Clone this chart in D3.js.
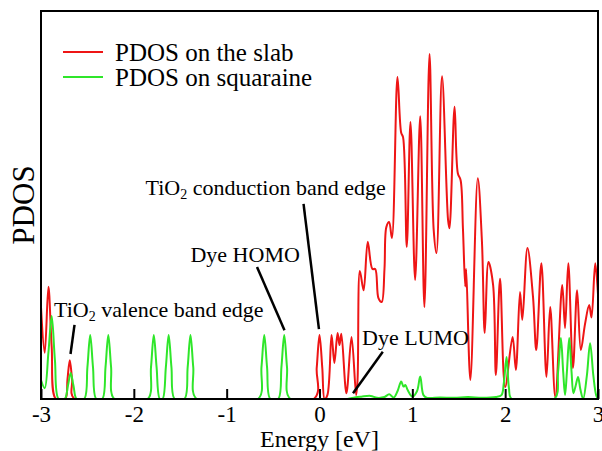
<!DOCTYPE html>
<html>
<head>
<meta charset="utf-8">
<script src="https://cdn.jsdelivr.net/npm/d3@7"></script>
<style>
  body { margin: 0; background: #fff; }
  svg { display: block; font-family: "Liberation Serif", "Times New Roman", serif; }
</style>
</head>
<body>
<div id="chart"></div>
<script>
// tick values along the energy axis
const energyTicks = [-3, -2, -1, 0, 1, 2, 3];
const tickLabels = ["-3", "-2", "-1", "0", "1", "2", "3"];

const seriesNames = ["PDOS on the slab", "PDOS on squaraine"];

// [energy eV, PDOS arb. units]
const slabPdos = [
  [-3.0, 23.7], [-2.96, 11.9], [-2.92, 28.9], [-2.885, 13.5], [-2.84, 0],
  [-2.74, 0], [-2.715, 5], [-2.69, 10], [-2.665, 5], [-2.64, 0],
  [-0.06, 0], [-0.03, 8], [0, 16.5], [0.03, 8], [0.055, 0], [0.085, 1],
  [0.13, 16.5], [0.16, 9.3], [0.195, 17], [0.215, 13.9], [0.235, 16.8],
  [0.29, 1.5], [0.345, 16], [0.395, 1], [0.41, 5], [0.435, 33], [0.475, 28],
  [0.52, 40.5], [0.57, 33.5], [0.60, 33.5], [0.635, 26], [0.67, 25],
  [0.70, 33.5], [0.72, 44.3], [0.75, 45.6], [0.78, 41.5], [0.84, 83],
  [0.88, 68.6], [0.90, 67.5], [0.94, 39.2], [0.98, 71.4], [1.03, 30.7],
  [1.085, 72.9], [1.13, 23.7], [1.185, 88.9], [1.23, 43.6], [1.26, 37.6],
  [1.32, 83.2], [1.385, 46.1], [1.40, 44], [1.455, 75.3], [1.49, 58.2],
  [1.52, 56.4], [1.545, 44], [1.57, 29], [1.58, 33.5], [1.625, 4.9],
  [1.705, 56.9], [1.75, 40.5], [1.78, 17], [1.82, 35.3], [1.87, 29.4],
  [1.90, 6.2], [1.945, 31], [2.0, 3.1], [2.08, 16], [2.115, 7.5],
  [2.16, 27.6], [2.185, 20.4], [2.24, 38.9], [2.30, 26.3], [2.335, 12.6],
  [2.39, 35], [2.445, 5.7], [2.485, 23.7], [2.54, 0.5], [2.615, 29.4],
  [2.645, 18.3], [2.68, 35], [2.73, 8], [2.775, 28], [2.815, 12.6],
  [2.86, 19.3], [2.905, 24.2], [2.93, 21], [2.97, 35], [3.0, 27]
];

const squarainePdos = [
  [-3.0, 4.9], [-2.96, 2.8], [-2.92, 12], [-2.885, 21.4], [-2.85, 10], [-2.81, 0],
  [-2.745, 0], [-2.71, 3.4], [-2.68, 6.7], [-2.65, 3.4], [-2.615, 0],
  [-2.535, 0], [-2.50, 8.2], [-2.47, 16.5], [-2.44, 8.2], [-2.405, 0],
  [-2.34, 0], [-2.305, 8.2], [-2.275, 16.5], [-2.245, 8.2], [-2.21, 0],
  [-1.85, 0], [-1.815, 8.2], [-1.785, 16.5], [-1.755, 8.2], [-1.72, 0],
  [-1.69, 0], [-1.655, 8.2], [-1.625, 16.5], [-1.595, 8.2], [-1.56, 0],
  [-1.455, 0], [-1.42, 8.2], [-1.39, 16.5], [-1.36, 8.2], [-1.325, 0],
  [-0.66, 0], [-0.625, 8.2], [-0.595, 16.5], [-0.565, 8.2], [-0.53, 0],
  [-0.445, 0], [-0.41, 8.2], [-0.38, 16.5], [-0.35, 8.2], [-0.315, 0],
  [0.30, 0], [0.38, 0.4], [0.45, 0.6], [0.55, 0.8], [0.62, 0.3], [0.70, 0.5],
  [0.75, 1.2], [0.80, 0.4], [0.84, 2], [0.88, 4.5], [0.905, 3.2], [0.925, 3.6],
  [0.95, 2.3], [1.0, 0.6], [1.05, 2], [1.085, 5.8], [1.12, 1], [1.16, 0.3],
  [1.3, 0.4], [1.45, 0.3], [1.6, 0.5], [1.75, 0.3], [1.9, 0.5], [1.96, 1],
  [1.985, 4], [2.015, 10.8], [2.04, 3], [2.07, 0],
  [2.53, 0], [2.57, 7], [2.60, 15.7], [2.625, 7], [2.645, 1], [2.665, 7],
  [2.69, 15.7], [2.715, 7], [2.735, 1.5], [2.76, 3.5], [2.785, 5.7], [2.81, 2.5],
  [2.84, 0], [2.88, 6], [2.915, 14.4], [2.95, 6], [2.98, 1], [3.0, 0]
];

// annotations: text anchor and leader line, in data units
const annotations = [
  { label: "TiO", sub: "2", rest: " conduction band edge", at: [-1.874, 52.6], line: [[-0.172, 50.3], [-0.006, 18.0]] },
  { label: "Dye HOMO", at: [-1.39, 35.3], line: [[-0.673, 34.0], [-0.377, 17.7]] },
  { label: "TiO", sub: "2", rest: " valence band edge", at: [-2.86, 21.1], line: [[-2.639, 19.1], [-2.682, 11.6]] },
  { label: "Dye LUMO", at: [0.458, 14.0], line: [[0.682, 12.2], [0.361, 1.5]] }
];

const width = 602, height = 451;
const margin = { top: 11, right: 4, bottom: 52, left: 41 };

const x = d3.scaleLinear().domain([-3, 3]).range([margin.left, width - margin.right]);
const y = d3.scaleLinear().domain([0, 100]).range([height - margin.bottom, margin.top]);

const svg = d3.select("#chart").append("svg")
    .attr("width", width)
    .attr("height", height);

svg.append("defs").append("clipPath").attr("id", "plot")
  .append("rect")
    .attr("x", x(-3)).attr("y", y(100))
    .attr("width", x(3) - x(-3)).attr("height", y(0) - y(100));

const line = d3.line()
    .x(d => x(d[0]))
    .y(d => y(d[1]))
    .curve(d3.curveCatmullRom.alpha(0.5));

const colors = ["#ee1515", "#2fe62a"];

const curves = svg.append("g").attr("clip-path", "url(#plot)").attr("fill", "none")
    .attr("stroke-width", 2).attr("stroke-linejoin", "round");
curves.append("path").attr("d", line(slabPdos)).attr("stroke", colors[0]);
curves.append("path").attr("d", line(squarainePdos)).attr("stroke", colors[1]);

// axis with inward ticks
const axis = svg.append("g")
    .attr("transform", `translate(0,${y(0)})`)
    .call(d3.axisBottom(x)
      .tickValues(energyTicks)
      .tickFormat((d, i) => tickLabels[i])
      .tickSizeInner(-10)
      .tickSizeOuter(0)
      .tickPadding(7));
axis.select(".domain").remove();
axis.selectAll(".tick line").attr("stroke", "#000").attr("stroke-width", 2);
axis.selectAll(".tick text")
    .attr("font-size", 23)
    .attr("font-family", "Liberation Serif, serif")
    .attr("fill", "#000");

// frame
svg.append("rect")
    .attr("x", x(-3)).attr("y", y(100))
    .attr("width", x(3) - x(-3)).attr("height", y(0) - y(100))
    .attr("fill", "none").attr("stroke", "#000").attr("stroke-width", 2);

svg.append("text")
    .attr("x", (x(-3) + x(3)) / 2)
    .attr("y", 447)
    .attr("text-anchor", "middle")
    .attr("font-size", 24)
    .text("Energy [eV]");

svg.append("text")
    .attr("transform", `translate(34,${(y(0) + y(100)) / 2}) rotate(-90)`)
    .attr("text-anchor", "middle")
    .attr("font-size", 31)
    .text("PDOS");

// legend
const legend = svg.append("g").attr("transform", "translate(63,52)");
seriesNames.forEach((name, i) => {
  const g = legend.append("g").attr("transform", `translate(0,${i * 25})`);
  g.append("line").attr("x1", 0).attr("x2", 40).attr("stroke", colors[i]).attr("stroke-width", 2);
  g.append("text").attr("x", 52).attr("y", 8.5).attr("font-size", 25).text(name);
});

// annotations
const ann = svg.append("g");
annotations.forEach(a => {
  ann.append("line")
      .attr("x1", x(a.line[0][0])).attr("y1", y(a.line[0][1]))
      .attr("x2", x(a.line[1][0])).attr("y2", y(a.line[1][1]))
      .attr("stroke", "#000").attr("stroke-width", 2.5);
  const t = ann.append("text")
      .attr("x", x(a.at[0])).attr("y", y(a.at[1]))
      .attr("font-size", 22);
  t.append("tspan").text(a.label);
  if (a.sub) {
    t.append("tspan").attr("font-size", 14).attr("dy", 4).text(a.sub);
    t.append("tspan").attr("dy", -4).text(a.rest);
  }
});
</script>
</body>
</html>
